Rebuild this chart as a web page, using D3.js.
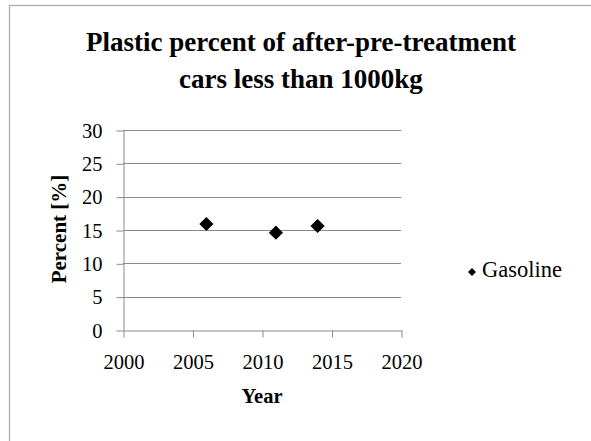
<!DOCTYPE html>
<html>
<head>
<meta charset="utf-8">
<script src="https://cdn.jsdelivr.net/npm/d3@7"></script>
<style>
  html, body { margin: 0; padding: 0; background: #fff; }
  svg { display: block; }
</style>
</head>
<body>
<script>
// Series data
const seriesName = "Gasoline";
const years = [2006, 2011, 2014];
const percents = [15.9, 14.6, 15.6];
const xTicks = [2000, 2005, 2010, 2015, 2020];
const yTicks = [0, 5, 10, 15, 20, 25, 30];
const titleLines = ["Plastic percent of after-pre-treatment", "cars less than 1000kg"];
const xTitle = "Year";
const yTitle = "Percent [%]";

const W = 591, H = 441;
const FONT = '"Liberation Serif", "Times New Roman", serif';
const plot = { left: 123, right: 401, top: 130, bottom: 330 };
const gridColor = "#8a8a8a";

const svg = d3.select("body").append("svg").attr("width", W).attr("height", H)
  .style("font-family", FONT);

// chart frame
svg.append("rect")
  .attr("x", 9.5).attr("y", 5.5).attr("width", W + 10).attr("height", H + 10)
  .attr("fill", "#fff").attr("stroke", "#ababab").attr("stroke-width", 1.3);

const x = d3.scaleLinear().domain([2000, 2020]).range([plot.left, plot.right]);
const y = d3.scaleLinear().domain([0, 30]).range([plot.bottom, plot.top]);

// horizontal gridlines
svg.append("g").selectAll("line").data(yTicks.filter(d => d > 0)).join("line")
  .attr("x1", plot.left).attr("x2", plot.right)
  .attr("y1", d => Math.round(y(d)) + 0.5).attr("y2", d => Math.round(y(d)) + 0.5)
  .attr("stroke", gridColor).attr("stroke-width", 1);

// axes
const yAxis = svg.append("g")
  .attr("transform", `translate(${plot.left + 0.5},0.5)`)
  .call(d3.axisLeft(y).tickValues(yTicks).tickSize(7).tickPadding(14).tickSizeOuter(0));
const xAxis = svg.append("g")
  .attr("transform", `translate(0.5,${plot.bottom + 0.5})`)
  .call(d3.axisBottom(x).tickValues(xTicks).tickFormat(d3.format("d")).tickSize(7).tickSizeOuter(0));

[yAxis, xAxis].forEach(g => {
  g.attr("font-family", null).attr("font-size", null);
  g.select(".domain").attr("stroke", gridColor);
  g.selectAll(".tick line").attr("stroke", gridColor);
  g.selectAll(".tick text").style("font-family", FONT).style("font-size", "20.5px").attr("fill", "#000");
});
xAxis.selectAll(".tick text").attr("y", 38).attr("dy", 0);

// axis titles
svg.append("text")
  .attr("x", (plot.left + plot.right) / 2).attr("y", 403)
  .attr("text-anchor", "middle").style("font-weight", "bold").style("font-size", "20.5px")
  .text(xTitle);
svg.append("text")
  .attr("transform", `translate(66,${(plot.top + plot.bottom) / 2 - 1}) rotate(-90)`)
  .attr("text-anchor", "middle").style("font-weight", "bold").style("font-size", "21px")
  .text(yTitle);

// title
svg.append("g").selectAll("text").data(titleLines).join("text")
  .attr("x", 301).attr("y", (d, i) => 51 + i * 37)
  .attr("text-anchor", "middle").style("font-weight", "bold").style("font-size", "27px")
  .text(d => d);

// markers
const diamond = d3.symbol().type(d3.symbolDiamond2).size(128);
svg.append("g").selectAll("path").data(years.map((yr, i) => [yr, percents[i]])).join("path")
  .attr("transform", d => `translate(${x(d[0])},${y(d[1])})`)
  .attr("d", diamond)
  .attr("fill", "#000");

// legend
const lg = svg.append("g").attr("transform", "translate(472,272)");
lg.append("path").attr("d", d3.symbol().type(d3.symbolDiamond2).size(40)).attr("fill", "#000");
lg.append("text").attr("x", 10).attr("y", 5).style("font-size", "22.5px").text(seriesName);
</script>
</body>
</html>
